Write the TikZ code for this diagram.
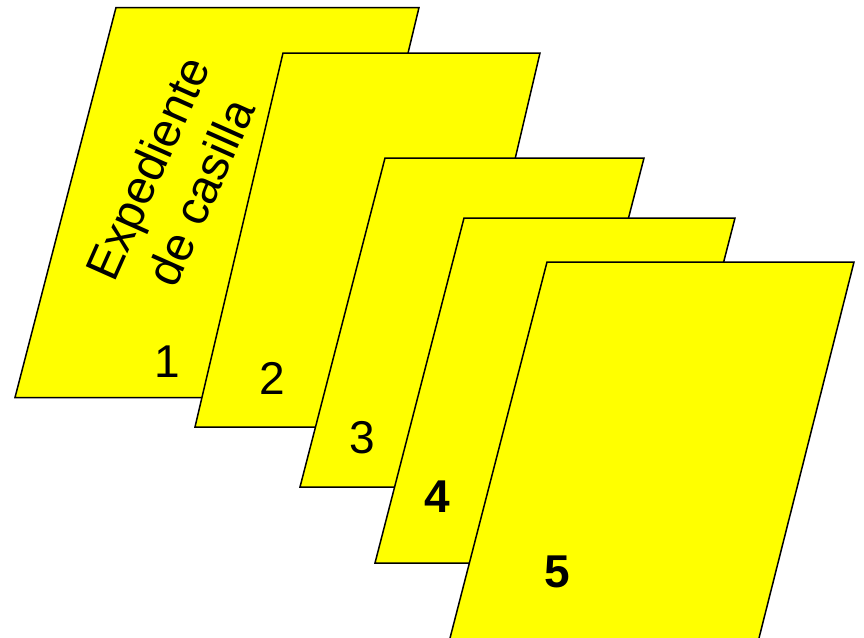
\documentclass[tikz,border=0pt]{standalone}
\usepackage{fontspec}
\setmainfont{Liberation Sans}
\begin{document}
\begin{tikzpicture}[x=1pt,y=-1pt,
  sheet/.style={fill={rgb,255:red,255;green,255;blue,0},draw=black,line width=1.5pt,line join=miter},
  numlabel/.style={inner sep=0pt,font=\fontsize{46}{50}\selectfont},
  boldnum/.style={numlabel,font=\fontsize{46}{50}\selectfont\bfseries}]
\useasboundingbox (0,0) rectangle (864,637);
\clip (0,0) rectangle (864,637);
\fill[white] (0,0) rectangle (864,637);
% sheet 1
\draw[sheet] (116,7.5) -- (419,7.5) -- (325,397.5) -- (15,397.5) -- cycle;
\node[rotate=66,align=center,inner sep=0pt,font=\fontsize{47.5}{58}\selectfont] (title) at (174,180) {Expediente\\de casilla};
\node[numlabel] (n1) at (167,362) {1};
% sheet 2
\draw[sheet] (283,53) -- (540,53) -- (452,427) -- (195,427) -- cycle;
\node[numlabel] (n2) at (272,378) {2};
% sheet 3
\draw[sheet] (385,158) -- (644,158) -- (559,487) -- (300,487) -- cycle;
\node[numlabel] (n3) at (362,438) {3};
% sheet 4
\draw[sheet] (464,218) -- (735,218) -- (646,563) -- (375,563) -- cycle;
\node[boldnum] (n4) at (437,497) {4};
% sheet 5
\draw[sheet] (547,262) -- (854,262) -- (758,642) -- (449,642) -- cycle;
\node[boldnum] (n5) at (557,572) {5};
\end{tikzpicture}
\end{document}
